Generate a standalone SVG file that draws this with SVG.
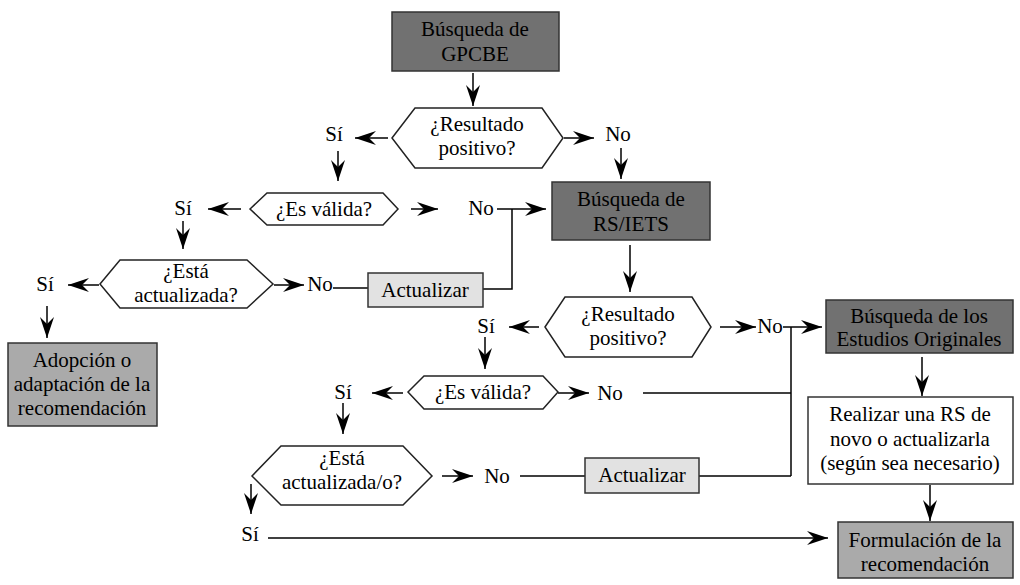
<svg xmlns="http://www.w3.org/2000/svg" width="1020" height="585" viewBox="0 0 1020 585">
  <style>
    text { font-family: 'Liberation Serif', 'Times New Roman', 'DejaVu Serif', serif; font-size: 21px; fill: #000; text-anchor: middle; }
    .box { stroke: #333; stroke-width: 1.5; }
    .dark { fill: #717171; }
    .mid { fill: #aaaaaa; }
    .light { fill: #e2e2e2; }
    .white { fill: #ffffff; }
    .hex { fill: #ffffff; stroke: #222; stroke-width: 1.5; }
    .wire { fill: none; stroke: #000; stroke-width: 1.5; }
    .arrow { fill: none; stroke: #000; stroke-width: 1.5; marker-end: url(#head); }
  </style>
  <defs>
    <marker id="head" markerUnits="userSpaceOnUse" viewBox="-23 -8 24 16" markerWidth="24" markerHeight="16" refX="0" refY="0" orient="auto">
      <path d="M0,0 L-21,-7 L-14,0 L-21,7 Z" fill="#000"/>
    </marker>
  </defs>
  <rect width="1020" height="585" fill="#ffffff"/>

  <!-- connectors -->
  <g id="connectors">
    <line class="arrow" x1="473" y1="73" x2="473" y2="106"/>
    <line class="arrow" x1="388" y1="138" x2="355" y2="138"/>
    <line class="arrow" x1="564" y1="138" x2="594" y2="138"/>
    <line class="arrow" x1="621" y1="148" x2="621" y2="179"/>
    <line class="arrow" x1="338" y1="151" x2="338" y2="181"/>
    <line class="arrow" x1="241" y1="209" x2="208" y2="209"/>
    <line class="arrow" x1="411" y1="209" x2="438" y2="209"/>
    <line class="arrow" x1="497" y1="209" x2="546" y2="209"/>
    <polyline class="wire" points="483,289 512,289 512,209"/>
    <line class="arrow" x1="183" y1="221" x2="183" y2="249"/>
    <line class="arrow" x1="99" y1="285" x2="68" y2="285"/>
    <line class="arrow" x1="274" y1="285" x2="304" y2="285"/>
    <line class="wire" x1="333" y1="288" x2="368" y2="288"/>
    <line class="arrow" x1="47" y1="306" x2="47" y2="338"/>
    <line class="arrow" x1="630" y1="245" x2="630" y2="292"/>
    <line class="arrow" x1="539" y1="327" x2="509" y2="327"/>
    <line class="arrow" x1="720" y1="327" x2="756" y2="327"/>
    <line class="arrow" x1="783" y1="327" x2="822" y2="327"/>
    <line class="wire" x1="791" y1="327" x2="791" y2="476"/>
    <line class="arrow" x1="485" y1="337" x2="485" y2="369"/>
    <line class="arrow" x1="403" y1="393" x2="372" y2="393"/>
    <line class="arrow" x1="558" y1="393" x2="589" y2="393"/>
    <line class="wire" x1="643" y1="393" x2="791" y2="393"/>
    <line class="arrow" x1="343" y1="403" x2="343" y2="434"/>
    <line class="arrow" x1="442" y1="476" x2="473" y2="476"/>
    <line class="wire" x1="520" y1="476" x2="585" y2="476"/>
    <line class="wire" x1="699" y1="476" x2="791" y2="476"/>
    <line class="arrow" x1="251" y1="484" x2="251" y2="514"/>
    <line class="arrow" x1="268" y1="538" x2="828" y2="538"/>
    <line class="arrow" x1="922" y1="357" x2="922" y2="396"/>
    <line class="arrow" x1="930" y1="485" x2="930" y2="521"/>
  </g>

  <!-- branch labels -->
  <g id="labels">
    <text x="334" y="141">Sí</text>
    <text x="618" y="141">No</text>
    <text x="183" y="215">Sí</text>
    <text x="481" y="215">No</text>
    <text x="45" y="291">Sí</text>
    <text x="320" y="291">No</text>
    <text x="486" y="333">Sí</text>
    <text x="770" y="333">No</text>
    <text x="343" y="399">Sí</text>
    <text x="610" y="400">No</text>
    <text x="497" y="483">No</text>
    <text x="250" y="541">Sí</text>
  </g>

  <!-- process boxes -->
  <g id="busqueda-gpcbe">
    <rect class="box dark" x="392" y="12" width="167" height="59"/>
    <text x="475" y="36">Búsqueda de</text>
    <text x="475" y="61">GPCBE</text>
  </g>
  <g id="busqueda-rs-iets">
    <rect class="box dark" x="552" y="182" width="158" height="58"/>
    <text x="631" y="206">Búsqueda de</text>
    <text x="631" y="231">RS/IETS</text>
  </g>
  <g id="actualizar-1">
    <rect class="box light" x="368" y="273" width="115" height="34"/>
    <text x="425" y="297">Actualizar</text>
  </g>
  <g id="adopcion">
    <rect class="box mid" x="8" y="343" width="149" height="83"/>
    <text x="82" y="367">Adopción o</text>
    <text x="82" y="391">adaptación de la</text>
    <text x="82" y="415">recomendación</text>
  </g>
  <g id="busqueda-estudios">
    <rect class="box dark" x="826" y="300" width="187" height="53"/>
    <text x="919" y="323">Búsqueda de los</text>
    <text x="919" y="346">Estudios Originales</text>
  </g>
  <g id="realizar-rs">
    <rect class="box white" x="808" y="397" width="205" height="87"/>
    <text x="910" y="421">Realizar una RS de</text>
    <text x="910" y="446">novo o actualizarla</text>
    <text x="910" y="470">(según sea necesario)</text>
  </g>
  <g id="actualizar-2">
    <rect class="box light" x="585" y="458" width="114" height="35"/>
    <text x="642" y="482">Actualizar</text>
  </g>
  <g id="formulacion">
    <rect class="box mid" x="838" y="522" width="175" height="56"/>
    <text x="925" y="547">Formulación de la</text>
    <text x="925" y="571">recomendación</text>
  </g>

  <!-- decision hexagons -->
  <g id="resultado-1">
    <polygon class="hex" points="392,138 415,108 542,108 563,138 542,168 415,168"/>
    <text x="477" y="131">¿Resultado</text>
    <text x="477" y="155">positivo?</text>
  </g>
  <g id="valida-1">
    <polygon class="hex" points="250,209 267,193 383,193 398,209 383,225 267,225"/>
    <text x="324" y="216">¿Es válida?</text>
  </g>
  <g id="actualizada-1">
    <polygon class="hex" points="100,284 120,260 247,260 273,284 247,308 120,308"/>
    <text x="186" y="278">¿Está</text>
    <text x="186" y="302">actualizada?</text>
  </g>
  <g id="resultado-2">
    <polygon class="hex" points="545,327 565,297 692,297 711,327 692,357 565,357"/>
    <text x="628" y="321">¿Resultado</text>
    <text x="628" y="345">positivo?</text>
  </g>
  <g id="valida-2">
    <polygon class="hex" points="408,392 424,376 543,376 558,392 543,409 424,409"/>
    <text x="483" y="399">¿Es válida?</text>
  </g>
  <g id="actualizada-2">
    <polygon class="hex" points="252,476 281,446 403,446 432,476 403,505 281,505"/>
    <text x="342" y="465">¿Está</text>
    <text x="342" y="489">actualizada/o?</text>
  </g>
</svg>
